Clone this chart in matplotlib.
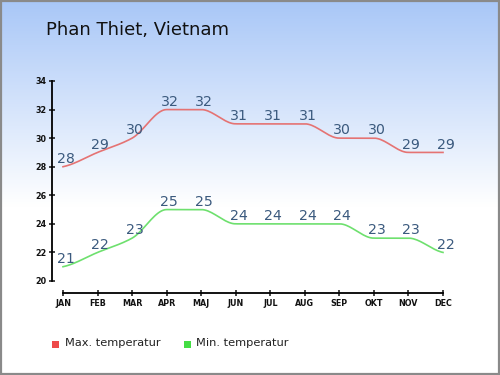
import numpy as np
import matplotlib
matplotlib.use("Agg")
import matplotlib.pyplot as plt
from matplotlib.patches import Rectangle

# Data
months = ["JAN", "FEB", "MAR", "APR", "MAJ", "JUN",
          "JUL", "AUG", "SEP", "OKT", "NOV", "DEC"]
max_temp = [28, 29, 30, 32, 32, 31, 31, 31, 30, 30, 29, 29]
min_temp = [21, 22, 23, 25, 25, 24, 24, 24, 24, 23, 23, 22]
y_ticks = [20, 22, 24, 26, 28, 30, 32, 34]


# Monotone cubic (PCHIP style) curve through the points, for drawing only
def smooth_curve(y, steps=20):
    y = np.asarray(y, dtype=float)
    x = np.arange(len(y), dtype=float)
    d = np.diff(y)
    m = np.zeros_like(y)
    for i in range(1, len(y) - 1):
        if d[i - 1] * d[i] > 0:
            m[i] = 2.0 / (1.0 / d[i - 1] + 1.0 / d[i])
    m[0] = d[0] * 0.5
    m[-1] = d[-1] * 0.5
    xs, ys = [], []
    for i in range(len(y) - 1):
        t = np.linspace(0, 1, steps, endpoint=False)
        h00 = 2 * t**3 - 3 * t**2 + 1
        h10 = t**3 - 2 * t**2 + t
        h01 = -2 * t**3 + 3 * t**2
        h11 = t**3 - t**2
        xs.append(x[i] + t)
        ys.append(h00 * y[i] + h10 * m[i] + h01 * y[i + 1] + h11 * m[i + 1])
    xs.append([x[-1]])
    ys.append([y[-1]])
    return np.concatenate(xs), np.concatenate(ys)


fig = plt.figure(figsize=(5, 3.75), dpi=100)

# background gradient
bg = fig.add_axes([0, 0, 1, 1])
grad = np.linspace(0, 1, 256)[:, None]
top = np.array([0.66, 0.78, 0.97])
white = np.array([1.0, 1.0, 1.0])
frac = np.clip(grad / 0.55, 0, 1)
img = top[None, None, :] * (1 - frac[:, :, None]) + white[None, None, :] * frac[:, :, None]
bg.imshow(img, aspect="auto", extent=[0, 1, 0, 1], origin="upper")
bg.add_patch(Rectangle((0.002, 0.003), 0.995, 0.994, fill=False,
                       edgecolor="#8a8a8a", linewidth=1.6,
                       transform=bg.transAxes))
bg.set_xlim(0, 1)
bg.set_ylim(0, 1)
bg.axis("off")

fig.text(46 / 500, 1 - 30 / 375, "Phan Thiet, Vietnam", fontsize=13,
         color="#111111", va="center", ha="left")

ax = fig.add_axes([63 / 500, 1 - 281 / 375, 380 / 500, 200 / 375])
ax.patch.set_alpha(0)
x = np.arange(len(months))

xs, ys = smooth_curve(max_temp)
ax.plot(xs, ys, color="#e57373", linewidth=1.2, clip_on=False)
xs, ys = smooth_curve(min_temp)
ax.plot(xs, ys, color="#6ee06e", linewidth=1.2, clip_on=False)

for series in (max_temp, min_temp):
    for i, v in enumerate(series):
        ax.annotate(str(v), (x[i], v), xytext=(2, 0.5), textcoords="offset points",
                    ha="center", va="bottom", fontsize=10.2, color="#3b5a7e")

ax.set_xlim(0, 11)
ax.set_ylim(20, 34)
ax.set_xticks(x)
ax.set_xticklabels(months)
ax.set_yticks(y_ticks)
ax.set_yticklabels([str(t) for t in y_ticks])

for s in ("top", "right"):
    ax.spines[s].set_visible(False)
ax.spines["left"].set_position(("outward", 8))
ax.spines["bottom"].set_position(("outward", 8.6))
ax.spines["left"].set_bounds(20, 34)
ax.spines["bottom"].set_bounds(0, 11)
ax.spines["left"].set_linewidth(1.3)
ax.spines["bottom"].set_linewidth(1.3)
ax.tick_params(direction="inout", length=5, width=1.1, pad=1.5,
               labelsize=5.8, colors="#111111")
for lab in ax.get_xticklabels() + ax.get_yticklabels():
    lab.set_fontweight("bold")

# legend
fig.patches.append(Rectangle((52 / 500, 1 - 348 / 375), 7 / 500, 7 / 375,
                             transform=fig.transFigure, facecolor="#ee4a4a",
                             edgecolor="none"))
fig.text(65 / 500, 1 - 343 / 375, "Max. temperatur", fontsize=8.2,
         color="#222222", va="center", ha="left")
fig.patches.append(Rectangle((184 / 500, 1 - 348 / 375), 7 / 500, 7 / 375,
                             transform=fig.transFigure, facecolor="#44dd44",
                             edgecolor="none"))
fig.text(196 / 500, 1 - 343 / 375, "Min. temperatur", fontsize=8.2,
         color="#222222", va="center", ha="left")

fig.savefig("out.png", dpi=100)
